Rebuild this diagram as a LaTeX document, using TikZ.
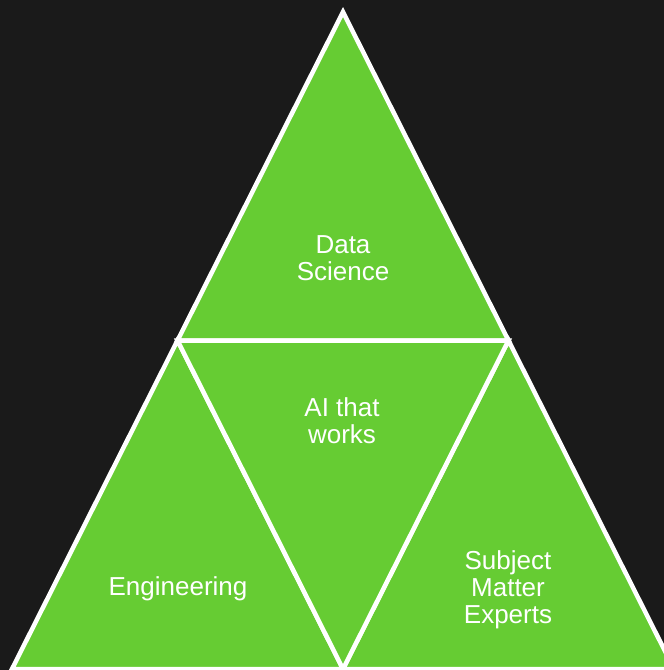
\documentclass[tikz,border=0pt]{standalone}
\usepackage{fontspec}
\setmainfont{Liberation Sans}
\usetikzlibrary{calc}
\definecolor{bgdark}{HTML}{1A1A1A}
\definecolor{leafgreen}{HTML}{66CC33}
\tikzset{
  tri/.style={fill=leafgreen,draw=white,line width=4.5pt,line join=miter},
  lbl/.style={text=white,align=center,font=\fontsize{26}{27}\selectfont}
}

\begin{document}
\begin{tikzpicture}[x=1pt,y=-1pt]
\fill[bgdark] (0,0) rectangle (664,670);
\useasboundingbox (0,0) rectangle (664,670);
% corners of the big triangle
\coordinate (A) at (343,12);
\coordinate (B) at (12,669);
\coordinate (C) at (674,669);
% midpoints of its sides
\coordinate (AB) at ($(A)!.5!(B)$);
\coordinate (AC) at ($(A)!.5!(C)$);
\coordinate (BC) at ($(B)!.5!(C)$);
\draw[tri] (A) -- (AB) -- (AC) -- cycle;
\draw[tri] (AB) -- (B) -- (BC) -- cycle;
\draw[tri] (AC) -- (BC) -- (C) -- cycle;
\draw[tri] (AB) -- (AC) -- (BC) -- cycle;
\node[lbl] (ds) at (343,258) {Data\\Science};
\node[lbl] (ai) at (342,421) {AI that\\works};
\node[lbl] (eng) at (178,589) {Engineering};
\node[lbl] (sme) at (508,590) {Subject\\Matter\\Experts};
\end{tikzpicture}
\end{document}
